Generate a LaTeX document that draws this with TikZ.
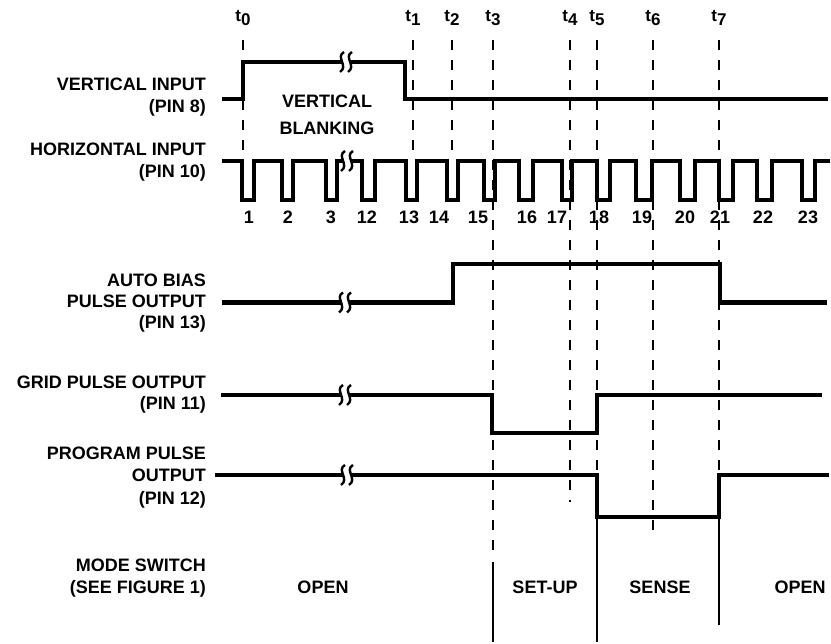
\documentclass[tikz,border=0pt]{standalone}
\usepackage{fontspec}
\setmainfont{Liberation Sans}
\begin{document}
\begin{tikzpicture}[x=1pt,y=-1pt,
  sig/.style={line width=4.5pt},
  tick/.style={line width=1.3pt, dash pattern=on 10pt off 10pt},
  modeln/.style={line width=1.2pt},
  lab/.style={font=\fontsize{18}{22}\selectfont\bfseries, anchor=base east, inner sep=0pt},
  txt/.style={font=\fontsize{18}{22}\selectfont\bfseries, anchor=base, inner sep=0pt},
  tl/.style={font=\fontsize{17}{20}\selectfont\bfseries, anchor=base, inner sep=0pt},
  brk/.pic={
    \fill[white] (-3.5,-4) rectangle (3.5,4);
    \foreach \d in {-4,4}
      \draw[line width=2.4pt] (\d+2,-10) .. controls (\d-7,-5) and (\d+7,4) .. (\d-2,10);
  }]
\useasboundingbox (0,0) rectangle (831,644);

% time marker labels
\foreach \n/\x in {0/243,1/413,2/452,3/493,4/570,5/597,6/653,7/719}
  \node[tl] (t\n) at (\x,22) {t\raisebox{-4pt}{\n}};

% dashed time markers
\foreach \x/\ya/\yb in {243/40/152, 413/40/152, 452/40/152, 493/40/558,
                        570/40/502, 597/40/475, 653/40/538, 719/40/475}
  \draw[tick] (\x,\ya) -- (\x,\yb);

% mode switch solid lines
\draw[modeln] (493,562) -- (493,642);
\draw[modeln] (597,517) -- (597,642);
\draw[modeln] (719,517) -- (719,625);

% signal labels
\node[lab] (vin1) at (206,91) {VERTICAL INPUT};
\node[lab] (vin2) at (206,113) {(PIN 8)};
\node[lab] (hin1) at (206,156) {HORIZONTAL INPUT};
\node[lab] (hin2) at (206,178) {(PIN 10)};
\node[lab] (ab1) at (206,287) {AUTO BIAS};
\node[lab] (ab2) at (206,308) {PULSE OUTPUT};
\node[lab] (ab3) at (206,329) {(PIN 13)};
\node[lab] (gp1) at (206,389) {GRID PULSE OUTPUT};
\node[lab] (gp2) at (206,410) {(PIN 11)};
\node[lab] (pp1) at (206,460) {PROGRAM PULSE};
\node[lab] (pp2) at (206,482) {OUTPUT};
\node[lab] (pp3) at (206,504) {(PIN 12)};
\node[lab] (ms1) at (206,571) {MODE SWITCH};
\node[lab] (ms2) at (206,593) {(SEE FIGURE 1)};

% vertical input
\draw[sig] (222,99) -- (243,99) -- (243,62) -- (405,62) -- (405,99) -- (828,99);
\pic at (346,62) {brk};
\node[txt] (vb1) at (327,108) {VERTICAL};
\node[txt] (vb2) at (327,135) {BLANKING};

% horizontal input
\draw[sig] (222,161) -- (242,161)
  \foreach \f/\r in {242/254,282/293,326/337,362/375,406/417,447/458,484/495,
                     519/533,562/572,597/610,636/652,680/695,719/733,757/772,802/815}
  { -- (\f,161) -- (\f,200) -- (\r,200) -- (\r,161) } -- (830,161);
\pic at (347,161) {brk};
\foreach \lbl/\x in {1/249,2/288,3/331,12/367,13/409,14/439,15/478,16/527,
                     17/557,18/599,19/642,20/685,21/720,22/763,23/808}
  \node[txt] (n\lbl) at (\x,224) {\lbl};

% auto bias
\draw[sig] (222,302.5) -- (453,302.5) -- (453,264) -- (720,264) -- (720,302.5) -- (827,302.5);
\pic at (345,302.5) {brk};

% grid pulse
\draw[sig] (221,395) -- (492,395) -- (492,433) -- (597,433) -- (597,395) -- (822,395);
\pic at (345,395) {brk};

% program pulse
\draw[sig] (215,475) -- (597,475) -- (597,517) -- (719,517) -- (719,475) -- (829,475);
\pic at (347,475) {brk};

% mode labels
\node[txt] (m1) at (323,593) {OPEN};
\node[txt] (m2) at (545,593) {SET-UP};
\node[txt] (m3) at (660,593) {SENSE};
\node[txt] (m4) at (800,593) {OPEN};
\end{tikzpicture}
\end{document}
